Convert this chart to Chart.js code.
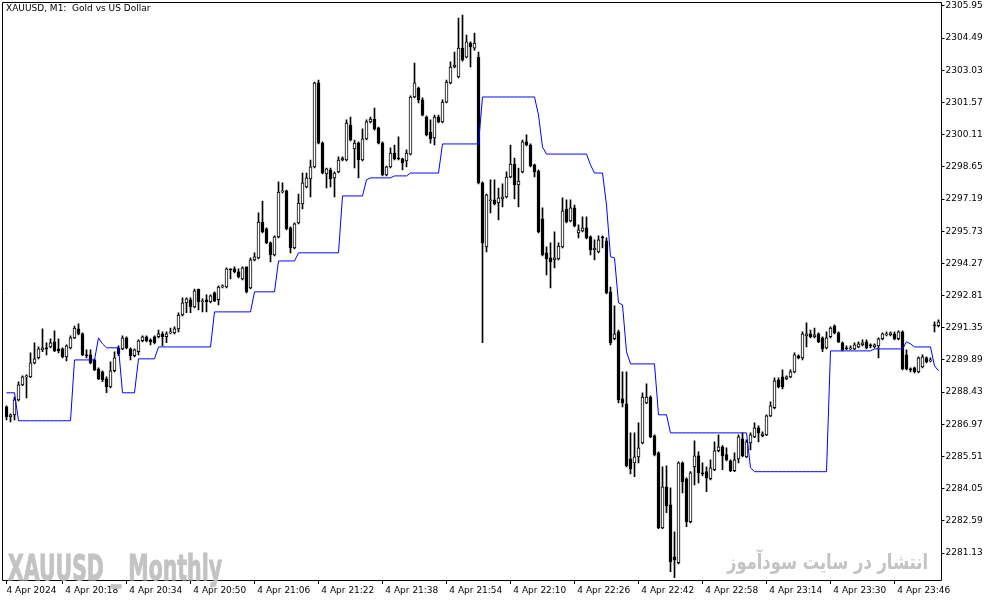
<!DOCTYPE html>
<html>
<head>
<meta charset="utf-8">
<title>XAUUSD M1</title>
<script src="https://cdn.jsdelivr.net/npm/chart.js@4.4.1/dist/chart.umd.min.js"></script>
<style>
  body { margin: 0; background: #fff; }
  #box { position: relative; width: 994px; height: 605px; overflow: hidden; }
  #box canvas { position: absolute; left: 0; top: 0; }
  .lbl { position: absolute; white-space: pre; transform-origin: 0 0; line-height: 1; }
  #symbol { left: 6px; top: 3px; font: 9px "DejaVu Sans", sans-serif; color: #000; }
  #mark1 { left: 8px; top: 547px; font: bold 36px "Liberation Sans Narrow", "DejaVu Sans Condensed", "DejaVu Sans", sans-serif; color: #c3c3c3; -webkit-text-stroke: 1px #c3c3c3; }
  #mark2 { left: 727px; top: 550px; font: bold 21px "DejaVu Sans", sans-serif; color: #c3c3c3; direction: rtl; }
</style>
</head>
<body>
<div id="box">
  <canvas id="chart" width="994" height="605"></canvas>
  <div id="symbol" class="lbl">XAUUSD, M1:  Gold vs US Dollar</div>
  <div id="mark1" class="lbl">XAUUSD _ Monthly</div>
  <div id="mark2" class="lbl">انتشار در سایت سودآموز</div>
</div>
<script>
// one candle per minute, first bar 20:04
const startMinute = 20 * 60 + 4;

const opens = [
  2287.76, 2287.31, 2287.40, 2288.08, 2288.76, 2289.12, 2289.12, 2289.76, 2289.98, 2290.35,
  2290.44, 2290.48, 2290.71, 2290.39, 2290.39, 2290.03, 2290.44, 2290.89, 2291.30, 2291.07,
  2290.12, 2290.12, 2289.89, 2289.48, 2289.35, 2289.03, 2288.67, 2289.40, 2290.44, 2290.39,
  2290.89, 2290.39, 2290.08, 2290.26, 2290.76, 2290.94, 2290.80, 2290.94, 2290.94, 2291.07,
  2290.94, 2291.12, 2291.12, 2291.30, 2291.93, 2292.48, 2292.62, 2292.30, 2293.11, 2292.53,
  2292.62, 2292.53, 2292.93, 2292.62, 2293.20, 2293.20, 2294.02, 2294.02, 2293.89, 2293.57,
  2294.11, 2293.16, 2294.43, 2294.52, 2296.15, 2295.84, 2295.20, 2294.66, 2295.47, 2297.51,
  2297.56, 2295.88, 2294.97, 2296.11, 2296.97, 2297.74, 2298.10, 2298.65, 2302.46, 2299.73,
  2298.33, 2298.51, 2298.15, 2298.42, 2298.96, 2298.96, 2300.55, 2299.46, 2299.73, 2298.96,
  2299.92, 2300.69, 2300.82, 2300.42, 2299.73, 2298.28, 2298.65, 2299.28, 2299.05, 2299.01,
  2298.92, 2299.23, 2301.82, 2302.23, 2301.69, 2300.91, 2300.23, 2299.96, 2300.91, 2300.69,
  2301.59, 2302.46, 2303.18, 2302.73, 2304.04, 2303.63, 2304.27, 2304.04, 2303.63, 2297.92,
  2295.02, 2297.10, 2297.15, 2297.01, 2297.20, 2297.29, 2298.19, 2298.78, 2297.83, 2298.42,
  2299.78, 2299.64, 2298.74, 2298.46, 2296.29, 2294.75, 2294.52, 2294.43, 2294.47, 2295.02,
  2296.74, 2296.20, 2296.79, 2295.65, 2295.74, 2295.88, 2295.47, 2294.88, 2294.79, 2295.43,
  2295.29, 2292.98, 2290.85, 2291.16, 2288.12, 2287.90, 2285.40, 2285.22, 2285.49, 2286.13,
  2287.94, 2288.21, 2286.45, 2285.68, 2282.27, 2284.13, 2283.32, 2280.96, 2280.69, 2285.22,
  2284.50, 2282.55, 2285.04, 2285.54, 2284.77, 2284.82, 2284.50, 2284.91, 2285.77, 2285.95,
  2285.59, 2285.31, 2284.86, 2285.40, 2286.31, 2285.49, 2286.13, 2286.40, 2286.81, 2286.45,
  2286.49, 2287.35, 2287.72, 2288.99, 2289.12, 2289.03, 2289.12, 2289.35, 2290.08, 2289.98,
  2290.98, 2291.07, 2290.94, 2291.07, 2290.89, 2290.44, 2290.94, 2291.43, 2291.12, 2290.67,
  2290.44, 2290.39, 2290.39, 2290.48, 2290.57, 2290.71, 2290.53, 2290.48, 2290.53, 2290.85,
  2291.03, 2291.03, 2291.07, 2290.85, 2291.16, 2290.12, 2289.48, 2289.53, 2289.35, 2289.57,
  2289.98, 2289.85, 2291.44, 2291.44
];
const highs = [
  2287.81, 2287.45, 2288.21, 2288.90, 2289.17, 2289.21, 2290.21, 2290.67, 2290.48, 2291.30,
  2290.67, 2290.85, 2291.21, 2290.85, 2290.44, 2290.57, 2290.98, 2291.43, 2291.53, 2291.12,
  2290.35, 2290.35, 2289.94, 2289.53, 2289.40, 2289.12, 2289.80, 2290.26, 2290.53, 2290.98,
  2290.94, 2290.44, 2290.39, 2290.80, 2290.98, 2290.98, 2290.85, 2290.98, 2291.25, 2291.16,
  2291.16, 2291.34, 2291.39, 2292.03, 2292.71, 2292.71, 2292.71, 2293.11, 2293.11, 2292.66,
  2292.84, 2292.84, 2292.98, 2293.25, 2293.30, 2294.07, 2294.02, 2294.11, 2294.02, 2294.11,
  2294.11, 2294.52, 2294.75, 2296.56, 2297.10, 2295.88, 2295.25, 2295.52, 2297.97, 2297.92,
  2297.60, 2295.93, 2296.11, 2297.42, 2298.37, 2298.37, 2298.96, 2302.50, 2302.59, 2299.78,
  2298.60, 2298.60, 2298.42, 2299.10, 2299.10, 2300.78, 2300.91, 2299.87, 2299.78, 2300.37,
  2300.78, 2300.91, 2301.32, 2300.46, 2299.78, 2298.69, 2299.51, 2299.64, 2300.01, 2299.05,
  2299.42, 2301.87, 2303.36, 2302.27, 2301.78, 2300.96, 2300.78, 2301.00, 2301.00, 2301.69,
  2302.59, 2303.41, 2303.86, 2305.40, 2305.54, 2304.63, 2304.32, 2304.72, 2303.86, 2297.97,
  2297.42, 2298.06, 2298.06, 2297.69, 2297.88, 2298.42, 2299.64, 2299.05, 2298.60, 2299.87,
  2300.10, 2299.69, 2298.78, 2298.51, 2296.79, 2295.02, 2295.20, 2295.70, 2295.20, 2297.24,
  2297.15, 2297.15, 2296.92, 2296.02, 2296.38, 2296.38, 2295.52, 2295.34, 2295.52, 2295.52,
  2295.43, 2293.20, 2292.34, 2291.25, 2289.35, 2289.35, 2286.58, 2286.58, 2287.04, 2288.40,
  2288.81, 2288.26, 2286.49, 2285.72, 2285.04, 2285.09, 2284.09, 2282.09, 2285.27, 2285.27,
  2284.54, 2284.82, 2286.22, 2285.72, 2285.22, 2285.04, 2285.36, 2286.17, 2286.49, 2286.00,
  2285.90, 2285.36, 2285.68, 2286.49, 2286.58, 2286.27, 2286.58, 2287.04, 2286.90, 2286.63,
  2287.40, 2287.99, 2289.08, 2289.08, 2289.44, 2289.17, 2289.44, 2290.21, 2290.12, 2291.16,
  2291.57, 2291.25, 2291.34, 2291.12, 2290.94, 2291.16, 2291.39, 2291.48, 2291.16, 2290.71,
  2290.53, 2290.53, 2290.67, 2290.71, 2290.80, 2290.80, 2290.62, 2290.62, 2290.89, 2291.12,
  2291.16, 2291.16, 2291.16, 2291.21, 2291.21, 2290.35, 2289.53, 2289.57, 2290.03, 2290.12,
  2290.03, 2289.98, 2291.62, 2291.71
];
const lows = [
  2287.17, 2287.08, 2287.17, 2288.03, 2288.72, 2288.17, 2289.08, 2289.71, 2289.94, 2290.26,
  2290.12, 2290.44, 2290.26, 2290.21, 2289.98, 2289.85, 2290.39, 2290.85, 2291.03, 2290.08,
  2289.98, 2289.71, 2289.40, 2288.99, 2288.90, 2288.40, 2288.62, 2289.35, 2290.08, 2290.35,
  2290.39, 2289.89, 2290.03, 2290.12, 2290.71, 2290.71, 2290.57, 2290.62, 2290.89, 2290.53,
  2290.67, 2291.07, 2291.07, 2291.16, 2291.89, 2292.03, 2292.03, 2292.25, 2292.16, 2292.07,
  2292.07, 2292.48, 2292.53, 2292.39, 2293.16, 2293.16, 2293.57, 2293.84, 2293.61, 2293.52,
  2292.93, 2293.11, 2294.38, 2294.47, 2295.65, 2295.16, 2294.34, 2294.61, 2295.43, 2297.47,
  2295.79, 2294.75, 2294.93, 2296.06, 2296.74, 2297.69, 2297.29, 2298.60, 2299.69, 2298.33,
  2297.69, 2297.74, 2297.29, 2298.37, 2298.92, 2298.92, 2299.83, 2298.60, 2298.15, 2298.92,
  2299.87, 2300.64, 2300.32, 2299.69, 2298.24, 2298.24, 2298.60, 2298.96, 2298.96, 2298.51,
  2298.65, 2299.19, 2301.78, 2301.55, 2300.96, 2300.05, 2299.73, 2299.64, 2300.64, 2300.64,
  2301.55, 2302.41, 2303.14, 2302.68, 2303.45, 2303.59, 2303.18, 2303.95, 2297.88, 2290.67,
  2294.79, 2296.56, 2296.92, 2296.24, 2296.83, 2297.24, 2298.15, 2297.20, 2296.83, 2298.37,
  2299.60, 2298.65, 2298.19, 2295.65, 2294.61, 2293.75, 2293.16, 2294.07, 2294.43, 2294.97,
  2296.11, 2296.15, 2295.93, 2295.43, 2295.70, 2295.38, 2294.66, 2294.43, 2294.75, 2294.97,
  2292.89, 2290.57, 2290.80, 2287.94, 2287.76, 2285.04, 2284.72, 2284.59, 2285.22, 2286.08,
  2287.90, 2286.36, 2285.54, 2282.23, 2282.23, 2282.96, 2280.28, 2280.01, 2280.64, 2283.86,
  2282.32, 2282.50, 2284.22, 2284.31, 2284.63, 2283.91, 2284.45, 2284.86, 2285.72, 2284.91,
  2285.31, 2284.82, 2284.82, 2285.22, 2285.49, 2285.45, 2285.81, 2286.36, 2286.17, 2286.40,
  2286.45, 2287.31, 2287.67, 2288.62, 2288.58, 2288.99, 2289.08, 2289.30, 2289.94, 2289.89,
  2290.48, 2290.89, 2290.89, 2290.67, 2290.26, 2290.39, 2290.89, 2291.07, 2290.67, 2290.30,
  2290.35, 2290.35, 2290.35, 2290.44, 2290.53, 2290.39, 2290.44, 2290.44, 2289.98, 2290.80,
  2290.98, 2290.98, 2290.80, 2290.80, 2289.44, 2289.44, 2289.35, 2289.30, 2289.30, 2289.53,
  2289.76, 2289.80, 2291.16, 2291.39
];
const closes = [
  2287.31, 2287.40, 2288.08, 2288.76, 2289.12, 2289.17, 2289.76, 2289.94, 2290.39, 2290.44,
  2290.39, 2290.67, 2290.30, 2290.30, 2290.03, 2290.53, 2290.89, 2291.34, 2291.07, 2290.12,
  2290.08, 2289.76, 2289.44, 2289.03, 2288.99, 2288.67, 2289.40, 2289.98, 2290.17, 2290.89,
  2290.44, 2290.08, 2290.35, 2290.76, 2290.94, 2290.76, 2290.71, 2290.67, 2291.07, 2290.94,
  2291.07, 2291.16, 2291.30, 2291.93, 2292.48, 2292.66, 2292.30, 2293.02, 2292.53, 2292.57,
  2292.53, 2292.80, 2292.57, 2293.20, 2293.25, 2294.02, 2293.98, 2293.89, 2293.66, 2294.07,
  2292.98, 2294.43, 2294.57, 2296.15, 2295.70, 2295.20, 2294.66, 2295.47, 2297.51, 2297.56,
  2295.84, 2294.97, 2296.06, 2297.01, 2297.92, 2298.15, 2298.65, 2302.46, 2299.73, 2298.37,
  2298.56, 2298.10, 2298.37, 2298.96, 2299.05, 2300.64, 2299.87, 2299.73, 2298.96, 2299.92,
  2300.69, 2300.82, 2300.37, 2299.73, 2298.28, 2298.65, 2299.28, 2299.01, 2299.01, 2298.83,
  2299.28, 2301.82, 2302.46, 2301.69, 2301.00, 2300.10, 2299.92, 2300.91, 2300.69, 2301.59,
  2302.50, 2303.18, 2303.27, 2304.04, 2303.50, 2304.32, 2304.09, 2304.27, 2297.92, 2295.20,
  2297.38, 2297.15, 2296.97, 2297.24, 2297.29, 2298.19, 2298.78, 2297.83, 2298.01, 2299.78,
  2299.64, 2298.69, 2298.42, 2295.70, 2294.66, 2294.47, 2294.34, 2294.52, 2295.06, 2296.65,
  2296.15, 2296.79, 2295.97, 2295.79, 2295.88, 2295.43, 2294.88, 2294.97, 2295.34, 2295.43,
  2292.93, 2290.67, 2291.07, 2288.08, 2287.94, 2285.09, 2284.95, 2285.49, 2285.90, 2288.21,
  2288.21, 2286.40, 2285.59, 2282.27, 2284.13, 2283.27, 2280.73, 2280.82, 2285.22, 2284.36,
  2282.55, 2284.77, 2285.54, 2284.77, 2284.72, 2284.54, 2285.00, 2285.77, 2285.95, 2285.54,
  2285.36, 2284.86, 2285.36, 2286.40, 2285.54, 2286.17, 2286.49, 2286.81, 2286.58, 2286.54,
  2287.35, 2287.81, 2288.94, 2288.67, 2288.67, 2289.12, 2289.35, 2290.12, 2289.98, 2291.07,
  2291.07, 2290.94, 2291.03, 2290.71, 2290.39, 2290.89, 2291.34, 2291.12, 2290.71, 2290.35,
  2290.39, 2290.44, 2290.57, 2290.62, 2290.67, 2290.44, 2290.53, 2290.57, 2290.85, 2291.07,
  2291.07, 2291.12, 2290.85, 2291.16, 2289.48, 2289.48, 2289.44, 2289.35, 2289.98, 2290.03,
  2289.80, 2289.89, 2291.44, 2291.62
];
// blue indicator line, one value per bar
const blueLine = [
  2288.40, 2288.40, 2288.40, 2287.13, 2287.13, 2287.13, 2287.13, 2287.13, 2287.13, 2287.13,
  2287.13, 2287.13, 2287.13, 2287.13, 2287.13, 2287.13, 2287.13, 2289.89, 2289.89, 2289.89,
  2289.89, 2289.89, 2289.89, 2290.89, 2290.62, 2290.44, 2290.44, 2290.44, 2290.44, 2288.40,
  2288.40, 2288.40, 2288.40, 2289.94, 2289.94, 2289.94, 2289.94, 2289.94, 2290.48, 2290.48,
  2290.48, 2290.48, 2290.48, 2290.48, 2290.48, 2290.48, 2290.48, 2290.48, 2290.48, 2290.48,
  2290.48, 2290.48, 2292.07, 2292.07, 2292.07, 2292.07, 2292.07, 2292.07, 2292.07, 2292.07,
  2292.07, 2292.07, 2292.98, 2292.98, 2292.98, 2292.98, 2292.98, 2292.98, 2294.38, 2294.38,
  2294.38, 2294.38, 2294.38, 2294.75, 2294.75, 2294.75, 2294.75, 2294.75, 2294.75, 2294.75,
  2294.75, 2294.75, 2294.75, 2294.75, 2297.33, 2297.33, 2297.33, 2297.33, 2297.33, 2297.33,
  2298.06, 2298.15, 2298.15, 2298.15, 2298.15, 2298.15, 2298.15, 2298.24, 2298.24, 2298.24,
  2298.24, 2298.37, 2298.37, 2298.37, 2298.37, 2298.37, 2298.37, 2298.37, 2298.37, 2299.69,
  2299.69, 2299.69, 2299.69, 2299.69, 2299.69, 2299.69, 2299.69, 2299.69, 2299.69, 2301.82,
  2301.82, 2301.82, 2301.82, 2301.82, 2301.82, 2301.82, 2301.82, 2301.82, 2301.82, 2301.82,
  2301.82, 2301.82, 2301.82, 2301.00, 2299.55, 2299.23, 2299.23, 2299.23, 2299.23, 2299.23,
  2299.23, 2299.23, 2299.23, 2299.23, 2299.23, 2299.23, 2298.74, 2298.37, 2298.37, 2298.37,
  2296.92, 2294.57, 2294.52, 2292.48, 2292.39, 2290.26, 2289.71, 2289.71, 2289.71, 2289.71,
  2289.71, 2289.71, 2289.71, 2287.40, 2287.40, 2287.40, 2286.58, 2286.58, 2286.58, 2286.58,
  2286.58, 2286.58, 2286.58, 2286.58, 2286.58, 2286.58, 2286.58, 2286.58, 2286.58, 2286.58,
  2286.58, 2286.58, 2286.58, 2286.58, 2286.58, 2286.58, 2285.00, 2284.82, 2284.82, 2284.82,
  2284.82, 2284.82, 2284.82, 2284.82, 2284.82, 2284.82, 2284.82, 2284.82, 2284.82, 2284.82,
  2284.82, 2284.82, 2284.82, 2284.82, 2284.82, 2284.82, 2290.30, 2290.30, 2290.30, 2290.30,
  2290.30, 2290.30, 2290.30, 2290.30, 2290.30, 2290.30, 2290.30, 2290.39, 2290.39, 2290.39,
  2290.39, 2290.39, 2290.39, 2290.39, 2290.39, 2290.71, 2290.62, 2290.48, 2290.48, 2290.48,
  2290.48, 2290.48, 2289.62, 2289.40
];

// axis labels
const priceTicks = [2281.13, 2282.59, 2284.05, 2285.51, 2286.97, 2288.43, 2289.89, 2291.35, 2292.81,
  2294.27, 2295.73, 2297.19, 2298.65, 2300.11, 2301.57, 2303.03, 2304.49, 2305.95];
const timeTickIdx = [0, 14, 30, 46, 62, 78, 94, 110, 126, 142, 158, 174, 190, 206, 222];
const timeTickText = ['4 Apr 2024', '4 Apr 20:18', '4 Apr 20:34', '4 Apr 20:50', '4 Apr 21:06',
  '4 Apr 21:22', '4 Apr 21:38', '4 Apr 21:54', '4 Apr 22:10', '4 Apr 22:26', '4 Apr 22:42',
  '4 Apr 22:58', '4 Apr 23:14', '4 Apr 23:30', '4 Apr 23:46'];

const yMin = 2279.905, yMax = 2306.13;

const times = opens.map((_, i) => {
  const m = startMinute + i;
  return String(Math.floor(m / 60)).padStart(2, '0') + ':' + String(m % 60).padStart(2, '0');
});

const wicks = lows.map((l, i) => [l, highs[i]]);
const bodies = opens.map((o, i) => [o, closes[i]]);
const bodyFill = opens.map((o, i) => closes[i] > o ? '#ffffff' : '#000000');

const axisFont = { family: 'DejaVu Sans', size: 9 };

// black frame round the plot, MT5 style
const frame = {
  id: 'frame',
  afterDraw(chart) {
    const ctx = chart.ctx;
    ctx.save();
    ctx.strokeStyle = '#000';
    ctx.lineWidth = 1;
    ctx.beginPath();
    ctx.moveTo(2.5, 580.5);
    ctx.lineTo(2.5, 2.5);
    ctx.lineTo(941.5, 2.5);
    ctx.lineTo(941.5, 580.5);
    ctx.lineTo(2.5, 580.5);
    ctx.stroke();
    ctx.restore();
  }
};

new Chart(document.getElementById('chart'), {
  type: 'bar',
  data: {
    labels: times,
    datasets: [
      {
        type: 'line',
        data: blueLine,
        borderColor: '#0000ff',
        borderWidth: 1,
        pointRadius: 0,
        tension: 0,
        order: 0
      },
      {
        data: bodies,
        backgroundColor: bodyFill,
        borderColor: '#000000',
        borderWidth: 1,
        borderSkipped: false,
        barThickness: 3,
        minBarLength: 1,
        grouped: false,
        order: 1
      },
      {
        data: wicks,
        backgroundColor: '#000000',
        barThickness: 1,
        grouped: false,
        order: 2
      }
    ]
  },
  options: {
    responsive: false,
    animation: false,
    events: [],
    layout: { padding: { left: 4.5, top: 2, right: 0, bottom: 0 } },
    plugins: { legend: { display: false }, tooltip: { enabled: false } },
    scales: {
      x: {
        type: 'category',
        offset: true,
        grid: { offset: false, drawOnChartArea: false, drawTicks: true, tickLength: 4, color: '#000' },
        border: { display: false },
        ticks: {
          autoSkip: false,
          maxRotation: 0,
          minRotation: 0,
          align: 'start',
          padding: 1,
          color: '#000',
          font: axisFont,
          callback: (v) => {
            const k = timeTickIdx.indexOf(v);
            return k < 0 ? null : (k === 0 ? timeTickText[k] : ' ' + timeTickText[k]);
          }
        },
        afterBuildTicks: (s) => { s.ticks = timeTickIdx.map(v => ({ value: v })); },
        afterFit: (s) => { s.height = 25; s.paddingLeft = 0; s.paddingRight = 0; }
      },
      y: {
        type: 'linear',
        position: 'right',
        min: yMin,
        max: yMax,
        grid: { drawOnChartArea: false, drawTicks: true, tickLength: 4, color: '#000' },
        border: { display: false },
        ticks: {
          padding: 1,
          color: '#000',
          font: axisFont,
          callback: (v) => v.toFixed(2)
        },
        afterBuildTicks: (s) => { s.ticks = priceTicks.map(v => ({ value: v })); },
        afterFit: (s) => { s.width = 53.5; s.paddingTop = 0; s.paddingBottom = 0; }
      }
    }
  },
  plugins: [frame]
});

// squeeze the watermarks to the width they take in the reference
function fitWidth(id, w) {
  const el = document.getElementById(id);
  const r = el.getBoundingClientRect();
  el.style.transform = 'scaleX(' + (w / r.width) + ')';
}
fitWidth('mark1', 214);
fitWidth('mark2', 201);
</script>
</body>
</html>
